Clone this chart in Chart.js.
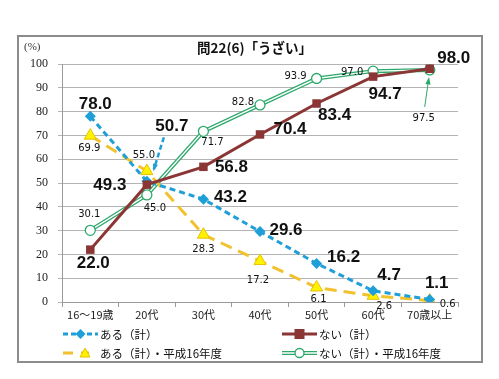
<!DOCTYPE html>
<html>
<head>
<meta charset="utf-8">
<script src="https://cdn.jsdelivr.net/npm/chart.js@4"></script>
<style>
body { margin: 0; background: #fff; }
#wrap { position: relative; width: 499px; height: 379px; overflow: hidden; }
#frame { position: absolute; left: 17px; top: 35px; width: 462px; height: 324px; border: 2px solid #8c8c8c; }
#chart { position: absolute; left: 0; top: 0; }
.txt { position: absolute; white-space: nowrap; color: #111; font-family: "Noto Sans CJK JP", sans-serif; }
#title { left: 197px; top: 37px; font-size: 13.5px; font-weight: bold; }
#unit { left: 24px; top: 40px; font-size: 11px; font-family: "Liberation Serif", serif; color: #333; }
.leg { position: absolute; display: flex; align-items: center; font-size: 11.5px; font-family: "Noto Sans CJK JP", sans-serif; color: #111; white-space: nowrap; }
.leg svg { margin-right: 2px; }
</style>
</head>
<body>
<div id="wrap">
  <div id="frame"></div>
  <canvas id="chart" width="499" height="379"></canvas>
  <div class="txt" id="unit">(%)</div>
  <div class="txt" id="title">問22(6)「うざい」</div>

  <div class="leg" style="left:63px; top:326px;">
    <svg width="35" height="14"><line x1="0" y1="7" x2="35" y2="7" stroke="#1e9fd8" stroke-width="3" stroke-dasharray="5,3"/><polygon points="17.5,2 22.5,7 17.5,12 12.5,7" fill="#1e9fd8"/></svg>ある（計）
  </div>
  <div class="leg" style="left:63px; top:345px;">
    <svg width="35" height="14"><line x1="0" y1="7" x2="10" y2="7" stroke="#f2c12e" stroke-width="3"/><line x1="18" y1="7" x2="26" y2="7" stroke="#f2c12e" stroke-width="3"/><polygon points="22,2 27,11 17,11" fill="#fff200" stroke="#e8c000"/></svg>ある（計）・平成16年度
  </div>
  <div class="leg" style="left:282px; top:326px;">
    <svg width="35" height="14"><line x1="0" y1="7" x2="35" y2="7" stroke="#8b3535" stroke-width="3"/><rect x="12.5" y="2" width="10" height="10" fill="#8b3535"/></svg>ない（計）
  </div>
  <div class="leg" style="left:282px; top:345px;">
    <svg width="35" height="14"><line x1="0" y1="7" x2="35" y2="7" stroke="#2da86b" stroke-width="4"/><line x1="0" y1="7" x2="35" y2="7" stroke="#fff" stroke-width="1.5"/><circle cx="17.5" cy="7" r="4.5" fill="#fff" stroke="#2da86b" stroke-width="1.3"/></svg>ない（計）・平成16年度
  </div>
</div>

<script>
// 年代
const ageGroups = ['16〜19歳', '20代', '30代', '40代', '50代', '60代', '70歳以上'];

// 値 (%)
const aru = [78.0, 50.7, 43.2, 29.6, 16.2, 4.7, 1.1];
const nai = [22.0, 49.3, 56.8, 70.4, 83.4, 94.7, 98.0];
const aruH16 = [69.9, 55.0, 28.3, 17.2, 6.1, 2.6, 0.6];
const naiH16 = [30.1, 45.0, 71.7, 82.8, 93.9, 97.0, 97.5];

const yTicks = [0, 10, 20, 30, 40, 50, 60, 70, 80, 90, 100];

const BLUE = '#1e9fd8';
const RED = '#8b3535';
const YELLOW = '#f2c12e';
const GREEN = '#2da86b';

// ラベル位置 (点からのずれ)
const bigFont = 'bold 17px "Liberation Sans", Arial, sans-serif';
const smallFont = '10px "DejaVu Sans", sans-serif';
const labelSets = [
  { ds: 1, values: aru, font: bigFont,
    off: [[5, -12], [25, -55], [27, -2], [26, -1], [27, -6], [16, -16], [7, -16]] },
  { ds: 0, values: nai, font: bigFont,
    off: [[3, 14], [-37, 1], [28, 0], [30, -5], [18, 12], [12, 18], [24, -10]] },
  { ds: 2, values: aruH16, font: smallFont,
    off: [[-1, 13], [-3, -16], [0, 15], [-2, 19], [2, 12], [11, 11], [18, 4]] },
  { ds: 3, values: naiH16, font: smallFont,
    off: [[-1, -16], [8, 14], [9, 11], [-17, -3], [-21, -2], [-21, 1], [-6, 48]] }
];

function arrow(ctx, x1, y1, x2, y2, color, width, dash) {
  ctx.save();
  ctx.strokeStyle = color;
  ctx.fillStyle = color;
  ctx.lineWidth = width;
  ctx.setLineDash(dash);
  ctx.beginPath();
  ctx.moveTo(x1, y1);
  ctx.lineTo(x2, y2);
  ctx.stroke();
  ctx.setLineDash([]);
  const a = Math.atan2(y2 - y1, x2 - x1);
  const len = 6;
  ctx.beginPath();
  ctx.moveTo(x2 + Math.cos(a) * 2, y2 + Math.sin(a) * 2);
  ctx.lineTo(x2 - len * Math.cos(a - 0.45), y2 - len * Math.sin(a - 0.45));
  ctx.lineTo(x2 - len * Math.cos(a + 0.45), y2 - len * Math.sin(a + 0.45));
  ctx.closePath();
  ctx.fill();
  ctx.restore();
}

const labelPlugin = {
  id: 'valueLabels',
  afterDatasetsDraw(chart) {
    const ctx = chart.ctx;
    ctx.save();
    ctx.textAlign = 'center';
    ctx.textBaseline = 'middle';
    labelSets.forEach(set => {
      const meta = chart.getDatasetMeta(set.ds);
      ctx.font = set.font;
      ctx.fillStyle = '#111';
      meta.data.forEach((pt, i) => {
        ctx.fillText(set.values[i].toFixed(1), pt.x + set.off[i][0], pt.y + set.off[i][1]);
      });
    });
    ctx.restore();

    // 50.7 と 97.5 の矢印
    const p1 = chart.getDatasetMeta(1).data[1];
    arrow(ctx, p1.x + 17, p1.y - 44, p1.x + 7, p1.y - 12, BLUE, 2.5, [5, 3]);
    const p2 = chart.getDatasetMeta(3).data[6];
    arrow(ctx, p2.x - 5, p2.y + 37, p2.x - 1, p2.y + 9, GREEN, 1, []);
  }
};

new Chart(document.getElementById('chart'), {
  type: 'line',
  data: {
    labels: ageGroups,
    datasets: [
      { label: 'ない（計）', data: nai, borderColor: RED, backgroundColor: RED, borderWidth: 3,
        pointStyle: 'rect', pointRadius: 6, pointBorderWidth: 0 },
      { label: 'ある（計）', data: aru, borderColor: BLUE, backgroundColor: BLUE, borderWidth: 3,
        borderDash: [6, 4], pointStyle: 'rectRot', pointRadius: 5.5, pointBorderWidth: 0 },
      { label: 'ある（計）・平成16年度', data: aruH16, borderColor: YELLOW, backgroundColor: '#fff200', borderWidth: 3,
        borderDash: [12, 7], pointStyle: 'triangle', pointRadius: 7, pointBorderColor: '#e8c000', pointBorderWidth: 1 },
      { label: 'ない（計）・平成16年度', data: naiH16, showLine: false, pointStyle: 'circle', pointRadius: 5,
        pointBackgroundColor: '#fff', pointBorderColor: GREEN, pointBorderWidth: 1.3 },
      { label: '', data: naiH16, borderColor: '#fff', borderWidth: 1.4, pointRadius: 0 },
      { label: '', data: naiH16, borderColor: GREEN, borderWidth: 4, pointRadius: 0 }
    ]
  },
  options: {
    responsive: false,
    animation: false,
    layout: { padding: { left: 17, right: 41, top: 64, bottom: 57 } },
    plugins: {
      legend: { display: false },
      tooltip: { enabled: false }
    },
    scales: {
      x: {
        offset: true,
        grid: { offset: true, drawOnChartArea: false, color: '#9a9a9a', tickLength: 5 },
        border: { color: '#9a9a9a' },
        ticks: { color: '#222', font: { family: '"Noto Sans CJK JP", sans-serif', size: 11 }, padding: 1, maxRotation: 0 },
        afterFit: s => { s.height = 20; }
      },
      y: {
        min: 0,
        max: 100,
        afterBuildTicks: s => { s.ticks = yTicks.map(v => ({ value: v })); },
        grid: { color: '#b4b4b4', tickLength: 4 },
        border: { color: '#9a9a9a' },
        ticks: { color: '#222', font: { family: '"Liberation Serif", serif', size: 12 }, padding: 10 },
        afterFit: s => { s.width = 45; }
      }
    }
  },
  plugins: [labelPlugin]
});
</script>
</body>
</html>
